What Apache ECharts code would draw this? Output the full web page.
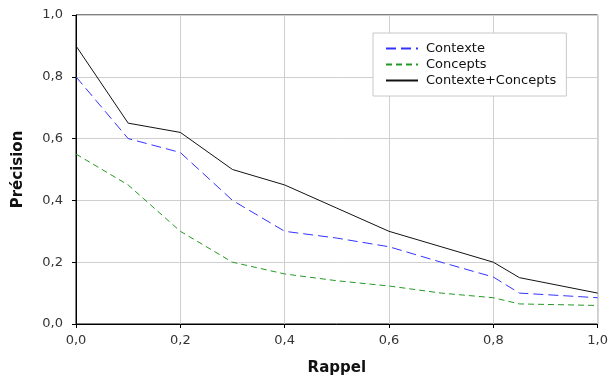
<!DOCTYPE html>
<html>
<head>
<meta charset="utf-8">
<script src="https://cdn.jsdelivr.net/npm/echarts@6/dist/echarts.min.js"></script>
<style>
  html, body { margin: 0; padding: 0; background: #fff; }
  #chart { width: 611px; height: 381px; }
</style>
</head>
<body>
<div id="chart"></div>
<script>
// rappel values (x) and precision values (y) per series
const rappel = [0.0, 0.1, 0.2, 0.3, 0.4, 0.5, 0.6, 0.7, 0.8, 0.85, 1.0];
const contexte = [0.80, 0.60, 0.555, 0.40, 0.30, 0.278, 0.25, 0.20, 0.152, 0.10, 0.085];
const concepts = [0.55, 0.45, 0.30, 0.20, 0.162, 0.14, 0.123, 0.10, 0.085, 0.065, 0.06];
const contexteConcepts = [0.90, 0.65, 0.62, 0.50, 0.45, 0.375, 0.30, 0.25, 0.20, 0.15, 0.10];
const seriesNames = ['Contexte', 'Concepts', 'Contexte+Concepts'];

const pairs = ys => rappel.map((x, i) => [x, ys[i]]);
const fmt = v => v.toFixed(1).replace('.', ',');
const font = 'DejaVu Sans, Verdana, sans-serif';

const chart = echarts.init(document.getElementById('chart'), null, { renderer: 'canvas' });

chart.setOption({
  animation: false,
  grid: {
    left: 76, right: 10, top: 15, bottom: 55,
    show: true, borderColor: '#000', borderWidth: 1
  },
  legend: {
    orient: 'vertical',
    left: 373, top: 33,
    padding: [9, 10, 9, 12],
    itemGap: 3,
    itemWidth: 32, itemHeight: 13,
    backgroundColor: '#fff',
    borderColor: '#c8c8c8', borderWidth: 1,
    itemStyle: { opacity: 0 },
    textStyle: { fontFamily: font, fontSize: 13, color: '#111', padding: [0, 0, 0, 3] },
    data: seriesNames
  },
  xAxis: {
    type: 'value', min: 0, max: 1, interval: 0.2,
    name: 'Rappel', nameLocation: 'middle', nameGap: 37,
    nameTextStyle: { fontFamily: font, fontSize: 15, fontWeight: 'bold', color: '#111' },
    axisLine: { lineStyle: { color: '#000' } },
    axisTick: { show: true, length: 4, lineStyle: { color: '#000' } },
    axisLabel: { formatter: fmt, fontFamily: font, fontSize: 13, color: '#333', margin: 10 },
    splitLine: { show: true, lineStyle: { color: '#cfcfcf', width: 1 } }
  },
  yAxis: {
    type: 'value', min: 0, max: 1, interval: 0.2,
    name: 'Précision', nameLocation: 'middle', nameGap: 50,
    nameTextStyle: { fontFamily: font, fontSize: 15, fontWeight: 'bold', color: '#111' },
    axisLine: { show: true, lineStyle: { color: '#000' } },
    axisTick: { show: true, length: 4, lineStyle: { color: '#000' } },
    axisLabel: { formatter: fmt, fontFamily: font, fontSize: 13, color: '#333', margin: 13 },
    splitLine: { show: true, lineStyle: { color: '#cfcfcf', width: 1 } }
  },
  series: [
    {
      name: seriesNames[0], type: 'line', symbol: 'none',
      data: pairs(contexte),
      itemStyle: { color: '#3333ff' },
      lineStyle: { color: '#3333ff', width: 1, type: [10, 5] }
    },
    {
      name: seriesNames[1], type: 'line', symbol: 'none',
      data: pairs(concepts),
      itemStyle: { color: '#229922' },
      lineStyle: { color: '#229922', width: 1, type: [6, 4] }
    },
    {
      name: seriesNames[2], type: 'line', symbol: 'none',
      data: pairs(contexteConcepts),
      itemStyle: { color: '#111' },
      lineStyle: { color: '#111', width: 1 }
    }
  ]
});
</script>
</body>
</html>
